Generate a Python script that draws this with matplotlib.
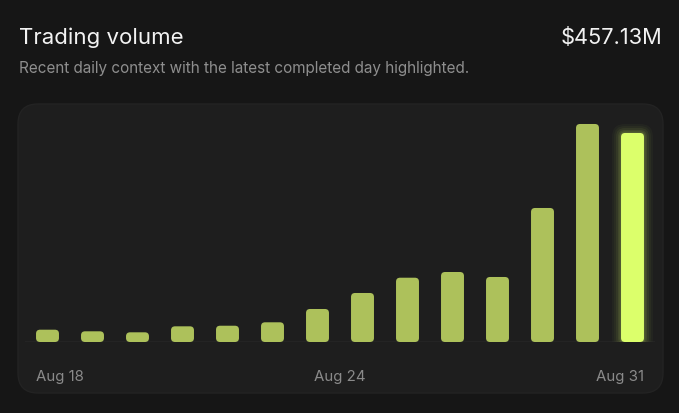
import matplotlib.pyplot as plt
from matplotlib.patches import FancyBboxPatch
import matplotlib.transforms as mtransforms

## Data (volume in $M)
days = ["Aug 18", "Aug 19", "Aug 20", "Aug 21", "Aug 22", "Aug 23", "Aug 24",
        "Aug 25", "Aug 26", "Aug 27", "Aug 28", "Aug 29", "Aug 30", "Aug 31"]
volume = [26.9, 23.4, 21.2, 34.3, 35.6, 43.1, 72.2,
          107.2, 140.6, 153.1, 142.2, 293.1, 476.8, 457.13]
tick_labels = ["Aug 18", "Aug 24", "Aug 31"]
latest_value = "$457.13M"

## Colours
BG = "#161616"
PANEL = "#1e1e1e"
BAR = "#adc15b"
HIGHLIGHT = "#dcff6b"

W, H = 679, 414
plt.rcParams['font.family'] = ['Inter', 'DejaVu Sans']
fig = plt.figure(figsize=(W / 100, H / 100), dpi=100, facecolor=BG)

## background layer in pixel units
bg = fig.add_axes([0, 0, 1, 1])
bg.set_xlim(0, W)
bg.set_ylim(0, H)
bg.axis('off')
panel = FancyBboxPatch((18, H - 394), 645, 289, boxstyle="round,pad=0,rounding_size=20",
                       facecolor=PANEL, edgecolor="#232323", linewidth=1)
bg.add_patch(panel)

## header texts
bg.text(19, H - 44, "Trading volume", color="#f2f2f2", fontsize=16, va="baseline", ha="left")
bg.text(662, H - 44, latest_value, color="#f2f2f2", fontsize=15.7, va="baseline", ha="right")
bg.text(19, H - 73.5, "Recent daily context with the latest completed day highlighted.",
        color="#8e8e8e", fontsize=11, va="baseline", ha="left")

## chart axes
ymax = 500
ax = fig.add_axes([25 / W, (H - 343) / H, 630 / W, (ymax / 2.187) / H])
ax.set_xlim(-0.5, len(volume) - 0.5)
ax.set_ylim(0, ymax)
ax.axis('off')
ax.patch.set_alpha(0)

# ratio of y units per pixel to x units per pixel, keeps corners circular
x_per_px = len(volume) / (630)
y_per_px = ymax / (ymax / 2.187)
aspect = y_per_px / x_per_px

bar_w = 0.51
radius = 4 * x_per_px
for i, v in enumerate(volume):
    last = i == len(volume) - 1
    color = HIGHLIGHT if last else BAR
    if last:
        # soft glow
        for k, a in [(9, 0.03), (7, 0.04), (5, 0.06), (3, 0.08), (1.5, 0.10)]:
            pad = k * x_per_px
            ax.add_patch(FancyBboxPatch((i - bar_w / 2, 0), bar_w, v,
                                        boxstyle=f"round,pad={pad},rounding_size={radius + pad}",
                                        mutation_aspect=aspect, facecolor=HIGHLIGHT,
                                        edgecolor="none", alpha=a, zorder=2))
    ax.add_patch(FancyBboxPatch((i - bar_w / 2, 0), bar_w, v,
                                boxstyle=f"round,pad=0,rounding_size={radius}",
                                mutation_aspect=aspect, facecolor=color, edgecolor="none", zorder=3))

ax.axhline(0, color="#3e3e3e", linewidth=1, zorder=1)

## x labels
trans = mtransforms.blended_transform_factory(ax.transData, bg.transData)
ax.text(0 - bar_w / 2, H - 381, tick_labels[0], transform=trans, color="#8a8a8a",
        fontsize=10.8, ha="left", va="baseline")
ax.text((len(volume) - 1) / 2, H - 381, tick_labels[1], transform=trans, color="#8a8a8a",
        fontsize=10.8, ha="center", va="baseline")
ax.text(len(volume) - 1 + bar_w / 2, H - 381, tick_labels[2], transform=trans, color="#8a8a8a",
        fontsize=10.8, ha="right", va="baseline")

plt.savefig("out.png", dpi=100, facecolor=BG)
